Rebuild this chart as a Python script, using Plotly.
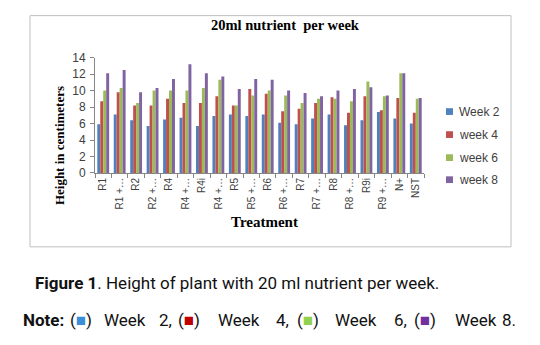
import plotly.graph_objects as go

categories = ["R1", "R1 +…", "R2", "R2 +…", "R4", "R4 +…", "R4i", "R4 +…\u200b",
              "R5", "R5 +…", "R6", "R6 +…", "R7", "R7 +…", "R8", "R8 +…",
              "R9i", "R9 +…", "N+", "NST"]
week2 = [5.9, 7.1, 6.4, 5.7, 6.5, 6.7, 5.7, 6.9, 7.1, 6.9, 7.1, 6.1, 5.9, 6.6, 7.1, 5.8, 6.4, 7.4, 6.6, 6.0]
week4 = [8.7, 9.8, 8.2, 8.2, 9.0, 8.5, 8.5, 9.3, 8.2, 10.2, 9.6, 7.5, 7.8, 8.5, 9.2, 7.3, 9.3, 7.6, 9.1, 7.3]
week6 = [10.0, 10.3, 8.5, 10.0, 10.0, 10.0, 10.3, 11.3, 8.2, 9.4, 10.0, 9.4, 8.5, 9.0, 9.0, 8.7, 11.1, 9.3, 12.1, 9.0]
week8 = [12.1, 12.5, 9.8, 10.3, 11.4, 13.2, 12.1, 11.7, 10.2, 11.4, 11.3, 10.0, 9.7, 9.3, 10.0, 10.2, 10.4, 9.4, 12.1, 9.1]
series_names = ["Week 2", "week 4", "week 6", "week 8"]
series_colors = ["#4F81BD", "#C0504D", "#9BBB59", "#8064A2"]
note_colors = ["#3A8FD8", "#C00000", "#92D050", "#7030A0"]
y_ticks = [0, 2, 4, 6, 8, 10, 12, 14]

W, H = 540, 345


def px(x):
    return x / W


def py(y):
    return 1 - y / H


fig = go.Figure()
for name, vals, col in zip(series_names, [week2, week4, week6, week8], series_colors):
    fig.add_trace(go.Bar(x=categories, y=vals, name=name, marker_color=col,
                         marker_line_width=0, showlegend=False))

shapes = [dict(type="rect", xref="paper", yref="paper",
               x0=px(30), x1=px(511), y0=py(250), y1=py(9),
               line=dict(color="#BFBFBF", width=1))]
ann = []
# legend (Excel-style, small squares)
leg_y = [109, 133, 157, 180]
for name, col, yy in zip(series_names, series_colors, leg_y):
    shapes.append(dict(type="rect", xref="paper", yref="paper",
                       x0=px(446), x1=px(453), y0=py(yy + 3.5), y1=py(yy - 3.5),
                       fillcolor=col, line=dict(width=0)))
    ann.append(dict(text=name, x=px(457), y=py(yy), xanchor="left",
                    font=dict(family="Liberation Sans, Arial", size=12, color="#404040")))

fig.update_layout(
    width=W, height=H, autosize=False,
    margin=dict(l=0, r=0, t=0, b=0),
    paper_bgcolor="white", plot_bgcolor="white",
    barmode="group", bargap=0.28, bargroupgap=0,
    showlegend=False,
    font=dict(family="Liberation Sans, Arial", color="#404040"),
    xaxis=dict(domain=[px(95), px(424)], type="category", tickson="boundaries",
               ticks="outside", ticklen=4, tickcolor="#868686",
               showline=True, linecolor="#868686", linewidth=1,
               tickangle=-90, tickfont=dict(size=10, color="#404040"),
               showgrid=False, zeroline=False),
    yaxis=dict(domain=[py(173), py(52.7)], range=[0, 14], tickvals=y_ticks,
               ticks="outside", ticklen=4, tickcolor="#868686",
               showline=True, linecolor="#868686", linewidth=1,
               tickfont=dict(size=12, color="#404040"), ticklabelstandoff=2,
               showgrid=False, zeroline=False),
    shapes=shapes,
)

serif = "Liberation Serif, Times New Roman, serif"
cap_font = dict(family="Roboto, sans-serif", size=17, color="#111111")
ann += [
    dict(text="<b>20ml nutrient\u00a0 per week</b>", x=px(285), y=py(19),
         font=dict(family=serif, size=14.5, color="black")),
    dict(text="<b>Height in centimeters</b>", x=px(59), y=py(145), textangle=-90,
         font=dict(family=serif, size=13, color="black")),
    dict(text="<b>Treatment</b>", x=px(264), y=py(224),
         font=dict(family=serif, size=15, color="black")),
    dict(text="<b>Figure 1</b>. Height of plant with 20 ml nutrient per week.",
         x=px(33), y=py(288), xanchor="left", font=cap_font),
]
note_pieces = [("<b>Note:</b>", 21)]
labels = ["2,", "4,", "6,", "8."]
sq_x = [68, 176, 295, 412]
wk_x = [102, 216, 333, 453]
num_x = [157, 274, 392, 500]
for c, lab, a, b, d in zip(note_colors, labels, sq_x, wk_x, num_x):
    note_pieces.append((f"(<span style='color:{c}'>■</span>)", a))
    note_pieces.append(("Week", b))
    note_pieces.append((lab, d))
for t, xx in note_pieces:
    ann.append(dict(text=t, x=px(xx), y=py(326), xanchor="left", font=cap_font))

for a in ann:
    a.update(xref="paper", yref="paper", showarrow=False)
    a.setdefault("xanchor", "center")
    a["yanchor"] = "middle"
    fig.add_annotation(**a)

fig.write_html("out.html")
